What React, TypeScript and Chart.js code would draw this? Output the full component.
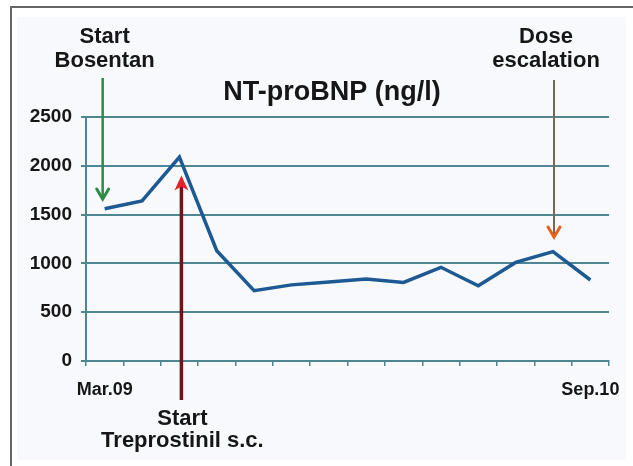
import React, { useEffect, useRef } from "react";
import { Chart, registerables } from "chart.js";

Chart.register(...registerables);

const monthLabels = ["Mar.09", "", "", "", "", "", "", "", "", "", "", "", "", "Sep.10"];
const ntProBnp = [1560, 1640, 2090, 1130, 720, 780, 810, 840, 805, 960, 770, 1010, 1120, 830];
const yTicks = [0, 500, 1000, 1500, 2000, 2500];
const chartTitle = "NT-proBNP (ng/l)";
const bosentanText = ["Start", "Bosentan"];
const treprostinilText = ["Start", "Treprostinil s.c."];
const doseText = ["Dose", "escalation"];

const FONT = "'Liberation Sans', Arial, Helvetica, sans-serif";
const GRID = "#4e8792";

function drawArrow(
  ctx: CanvasRenderingContext2D,
  x: number,
  yFrom: number,
  yTip: number,
  shaft: string,
  shaftW: number,
  head: string,
  filled: boolean
) {
  const dir = yTip > yFrom ? 1 : -1;
  ctx.save();
  ctx.strokeStyle = shaft;
  ctx.lineWidth = shaftW;
  ctx.beginPath();
  ctx.moveTo(x, yFrom);
  ctx.lineTo(x, yTip - dir * (filled ? 10 : 2));
  ctx.stroke();
  if (filled) {
    ctx.fillStyle = head;
    ctx.beginPath();
    ctx.moveTo(x, yTip);
    ctx.lineTo(x - 7, yTip - dir * 15);
    ctx.lineTo(x, yTip - dir * 11);
    ctx.lineTo(x + 7, yTip - dir * 15);
    ctx.closePath();
    ctx.fill();
  } else {
    ctx.strokeStyle = head;
    ctx.lineWidth = 3;
    ctx.lineCap = "round";
    ctx.beginPath();
    ctx.moveTo(x - 6, yTip - dir * 10);
    ctx.lineTo(x, yTip);
    ctx.lineTo(x + 6, yTip - dir * 10);
    ctx.stroke();
  }
  ctx.restore();
}

const annotations = {
  id: "annotations",
  afterDatasetsDraw(chart: any) {
    const ctx: CanvasRenderingContext2D = chart.ctx;
    const xs = chart.scales.x;
    const ys = chart.scales.y;
    ctx.save();
    ctx.fillStyle = "#161616";
    ctx.textAlign = "center";
    ctx.textBaseline = "middle";

    ctx.font = `bold 27px ${FONT}`;
    ctx.fillText(chartTitle, 332, 93);

    ctx.font = `bold 22px ${FONT}`;
    const xB = xs.getPixelForValue(0);
    ctx.fillText(bosentanText[0], xB, 37);
    ctx.fillText(bosentanText[1], xB, 61);

    const xD = xs.getPixelForValue(12);
    ctx.fillText(doseText[0], xD - 7, 37);
    ctx.fillText(doseText[1], xD - 7, 61);

    const xT = xs.getPixelForValue(2);
    ctx.fillText(treprostinilText[0], xT + 3, 419);
    ctx.fillText(treprostinilText[1], xT + 3, 441);
    ctx.restore();

    drawArrow(ctx, xB - 2, 78, ys.getPixelForValue(1660), "#2f8a45", 2.5, "#2f8a45", false);
    drawArrow(ctx, xD + 1, 80, ys.getPixelForValue(1270), "#7b6453", 2, "#e8601c", false);
    drawArrow(ctx, xT + 2, ys.getPixelForValue(-400), ys.getPixelForValue(1900), "#6e1616", 3.5, "#e3232b", true);
  },
};

export default function App() {
  const ref = useRef<HTMLCanvasElement>(null);
  useEffect(() => {
    if (!ref.current) return;
    const chart = new Chart(ref.current, {
      type: "line",
      data: {
        labels: monthLabels,
        datasets: [
          {
            data: ntProBnp,
            borderColor: "#1d5a93",
            borderWidth: 3.5,
            pointRadius: 0,
            tension: 0,
            borderJoinStyle: "miter",
          },
        ],
      },
      options: {
        responsive: false,
        animation: false,
        layout: { padding: { top: 117, right: 17, left: 0, bottom: 0 } },
        plugins: { legend: { display: false }, tooltip: { enabled: false }, title: { display: false } },
        scales: {
          x: {
            type: "category",
            offset: true,
            grid: { offset: true, drawOnChartArea: false, color: GRID, lineWidth: 1.5, tickLength: 5 },
            border: { color: GRID, width: 2 },
            ticks: {
              autoSkip: false,
              maxRotation: 0,
              padding: 13,
              color: "#161616",
              font: { family: FONT, size: 18, weight: "bold" },
            },
            afterFit(scale: any) {
              scale.height = 105;
            },
          },
          y: {
            min: 0,
            max: 2500,
            afterBuildTicks(scale: any) {
              scale.ticks = yTicks.map((v) => ({ value: v }));
            },
            grid: { color: GRID, lineWidth: 2, tickLength: 5 },
            border: { color: GRID, width: 2 },
            ticks: {
              padding: 9,
              color: "#161616",
              font: { family: FONT, size: 19, weight: "bold" },
              callback: (v: any) => String(v),
            },
            afterFit(scale: any) {
              scale.width = 86;
            },
          },
        },
      },
      plugins: [annotations],
    });
    return () => chart.destroy();
  }, []);

  return (
    <div style={{ position: "fixed", left: 0, top: 0, width: 633, height: 466, background: "#ffffff" }}>
      <div
        style={{
          position: "absolute",
          left: 10,
          top: 6,
          width: 623,
          height: 460,
          borderLeft: "2px solid #666",
          borderTop: "2px solid #666",
        }}
      />
      <div style={{ position: "absolute", left: 17, top: 17, width: 609, height: 443, background: "#f8f9fc" }} />
      <canvas ref={ref} width={633} height={466} style={{ position: "absolute", left: 0, top: 0 }} />
    </div>
  );
}
